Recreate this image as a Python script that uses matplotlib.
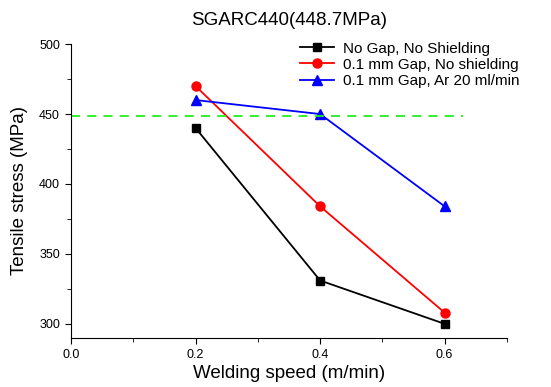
import matplotlib
matplotlib.use("Agg")
import matplotlib.pyplot as plt
from matplotlib.ticker import MultipleLocator

plt.rcParams["font.family"] = ["Liberation Sans", "DejaVu Sans"]

# data
speed = [0.2, 0.4, 0.6]
no_gap = [440, 331, 300]
gap_no_shield = [470, 384, 308]
gap_ar20 = [460, 450, 384]
base_strength = 448.7
ref_x = [0.0, 0.63]

fig = plt.figure(figsize=(5.51, 3.87), dpi=100)
ax = fig.add_axes([0.129, 0.127, 0.791, 0.759])

ax.plot(speed, no_gap, "-s", color="black", ms=6, lw=1.3, label="No Gap, No Shielding")
ax.plot(speed, gap_no_shield, "-o", color="red", ms=6.5, lw=1.3, label="0.1 mm Gap, No shielding")
ax.plot(speed, gap_ar20, "-^", color="blue", ms=7, lw=1.3, label="0.1 mm Gap, Ar 20 ml/min")
ax.plot(ref_x, [base_strength, base_strength], "--", color="#22ee22", lw=1.3, dashes=(5, 4))

ax.set_xlim(0, 0.7)
ax.set_ylim(290, 500)
ax.xaxis.set_major_locator(MultipleLocator(0.2))
ax.xaxis.set_minor_locator(MultipleLocator(0.1))
ax.yaxis.set_major_locator(MultipleLocator(50))
ax.yaxis.set_minor_locator(MultipleLocator(25))
ax.xaxis.set_major_formatter(plt.FuncFormatter(lambda v, p: "%.1f" % v))

ax.spines["top"].set_visible(False)
ax.spines["right"].set_visible(False)
ax.tick_params(labelsize=9, length=4, direction="out", pad=4)
ax.tick_params(which="minor", length=3)

ax.set_xlabel("Welding speed (m/min)", fontsize=13.5, labelpad=3)
ax.set_ylabel("Tensile stress (MPa)", fontsize=13.5, labelpad=8)
ax.set_title("SGARC440(448.7MPa)", fontsize=13.5, pad=14)

ax.legend(loc="upper right", bbox_to_anchor=(1.05, 1.04), frameon=False, fontsize=11,
          handlelength=2.2, labelspacing=0.15, borderaxespad=0.2, handletextpad=0.6)

fig.savefig("out.png", dpi=100)
